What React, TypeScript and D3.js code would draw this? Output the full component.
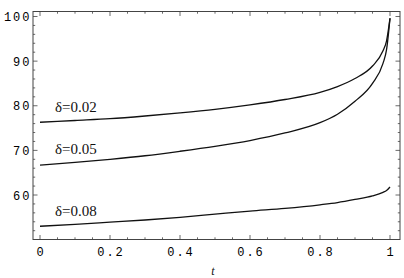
import React, { useEffect, useRef } from 'react'
import * as d3 from 'd3'

// t values sampled along each curve
const tValues = [0, 0.1, 0.2, 0.3, 0.4, 0.5, 0.6, 0.7, 0.8, 0.85, 0.9, 0.95, 0.98, 0.99, 1.0]

// curve values
const d002 = [76.3, 76.7, 77.1, 77.7, 78.4, 79.2, 80.2, 81.4, 83.0, 84.3, 86.1, 88.9, 92.3, 94.5, 99.6]
const d005 = [66.7, 67.3, 68.0, 68.8, 69.8, 70.9, 72.2, 73.9, 76.2, 78.1, 81.0, 85.0, 89.5, 92.5, 99.6]
const d008 = [53.0, 53.4, 53.9, 54.4, 55.0, 55.7, 56.4, 57.0, 57.8, 58.3, 59.0, 59.8, 60.6, 61.0, 61.8]

const seriesLabels = ['δ=0.02', 'δ=0.05', 'δ=0.08']
const labelValues = [78.6, 69.1, 55.3]

const xTicks = [0, 0.2, 0.4, 0.6, 0.8, 1]
const xTickLabels = ['0', '0.2', '0.4', '0.6', '0.8', '1']
const yTicks = [60, 70, 80, 90, 100]

export default function App() {
  const ref = useRef<SVGSVGElement>(null)

  useEffect(() => {
    if (!ref.current) return
    const svg = d3.select(ref.current)
    svg.selectAll('*').remove()

    const left = 33, right = 400, top = 11.5, bottom = 239.5
    const x = d3.scaleLinear().domain([0, 1]).range([40, 390])
    const y = d3.scaleLinear().domain([60, 100]).range([195, 16.5])

    const frameColor = '#444'
    const monoFont = '"Liberation Mono", "DejaVu Sans Mono", monospace'
    const ls = 2

    // frame
    svg.append('rect')
      .attr('x', left).attr('y', top)
      .attr('width', right - left).attr('height', bottom - top)
      .attr('fill', 'none').attr('stroke', frameColor).attr('stroke-width', 1)

    // x ticks: major + minor, bottom and top, pointing inward
    const xMinor = d3.range(0, 1.0001, 0.05).filter(v => Math.abs(v * 5 - Math.round(v * 5)) > 1e-6)
    const tickG = svg.append('g').attr('stroke', frameColor).attr('stroke-width', 0.8)
    xTicks.forEach(v => {
      tickG.append('line').attr('x1', x(v)).attr('x2', x(v)).attr('y1', bottom).attr('y2', bottom - 4.5)
      tickG.append('line').attr('x1', x(v)).attr('x2', x(v)).attr('y1', top).attr('y2', top + 4.5)
    })
    xMinor.forEach(v => {
      tickG.append('line').attr('x1', x(v)).attr('x2', x(v)).attr('y1', bottom).attr('y2', bottom - 2.2)
      tickG.append('line').attr('x1', x(v)).attr('x2', x(v)).attr('y1', top).attr('y2', top + 2.2)
    })

    // y ticks
    const yMinor = d3.range(52, 101, 2).filter(v => v % 10 !== 0)
    yTicks.forEach(v => {
      tickG.append('line').attr('x1', left).attr('x2', left + 4.5).attr('y1', y(v)).attr('y2', y(v))
      tickG.append('line').attr('x1', right).attr('x2', right - 4.5).attr('y1', y(v)).attr('y2', y(v))
    })
    yMinor.forEach(v => {
      tickG.append('line').attr('x1', left).attr('x2', left + 2.2).attr('y1', y(v)).attr('y2', y(v))
      tickG.append('line').attr('x1', right).attr('x2', right - 2.2).attr('y1', y(v)).attr('y2', y(v))
    })

    // tick labels
    svg.append('g').selectAll('text').data(xTicks).enter().append('text')
      .attr('x', d => x(d) + ls / 2)
      .attr('y', 255.5)
      .attr('text-anchor', 'middle')
      .style('font-family', monoFont)
      .style('font-size', '12px')
      .style('letter-spacing', `${ls}px`)
      .attr('fill', '#000')
      .text((d, i) => xTickLabels[i])

    svg.append('g').selectAll('text').data(yTicks).enter().append('text')
      .attr('x', 29.5 + ls)
      .attr('y', d => y(d) + 4.5)
      .attr('text-anchor', 'end')
      .style('font-family', monoFont)
      .style('font-size', '12px')
      .style('letter-spacing', `${ls}px`)
      .attr('fill', '#000')
      .text(d => String(d))

    // axis label
    svg.append('text')
      .attr('x', 213).attr('y', 275)
      .attr('text-anchor', 'middle')
      .style('font-family', '"Liberation Serif", serif')
      .style('font-style', 'italic')
      .style('font-size', '12px')
      .attr('fill', '#111')
      .text('t')

    // curves
    const line = d3.line<number>()
      .x((d, i) => x(tValues[i]))
      .y(d => y(d))
      .curve(d3.curveMonotoneX)

    ;[d002, d005, d008].forEach(series => {
      svg.append('path')
        .attr('d', line(series))
        .attr('fill', 'none')
        .attr('stroke', '#111')
        .attr('stroke-width', 1.3)
    })

    // series labels
    seriesLabels.forEach((label, i) => {
      svg.append('text')
        .attr('x', 55)
        .attr('y', y(labelValues[i]))
        .style('font-family', '"Liberation Serif", serif')
        .style('font-size', '15px')
        .attr('fill', '#111')
        .text(label)
    })
  }, [])

  return (
    <svg ref={ref} width={404} height={278}
      style={{ position: 'absolute', left: 0, top: 0, background: '#fff' }} />
  )
}
